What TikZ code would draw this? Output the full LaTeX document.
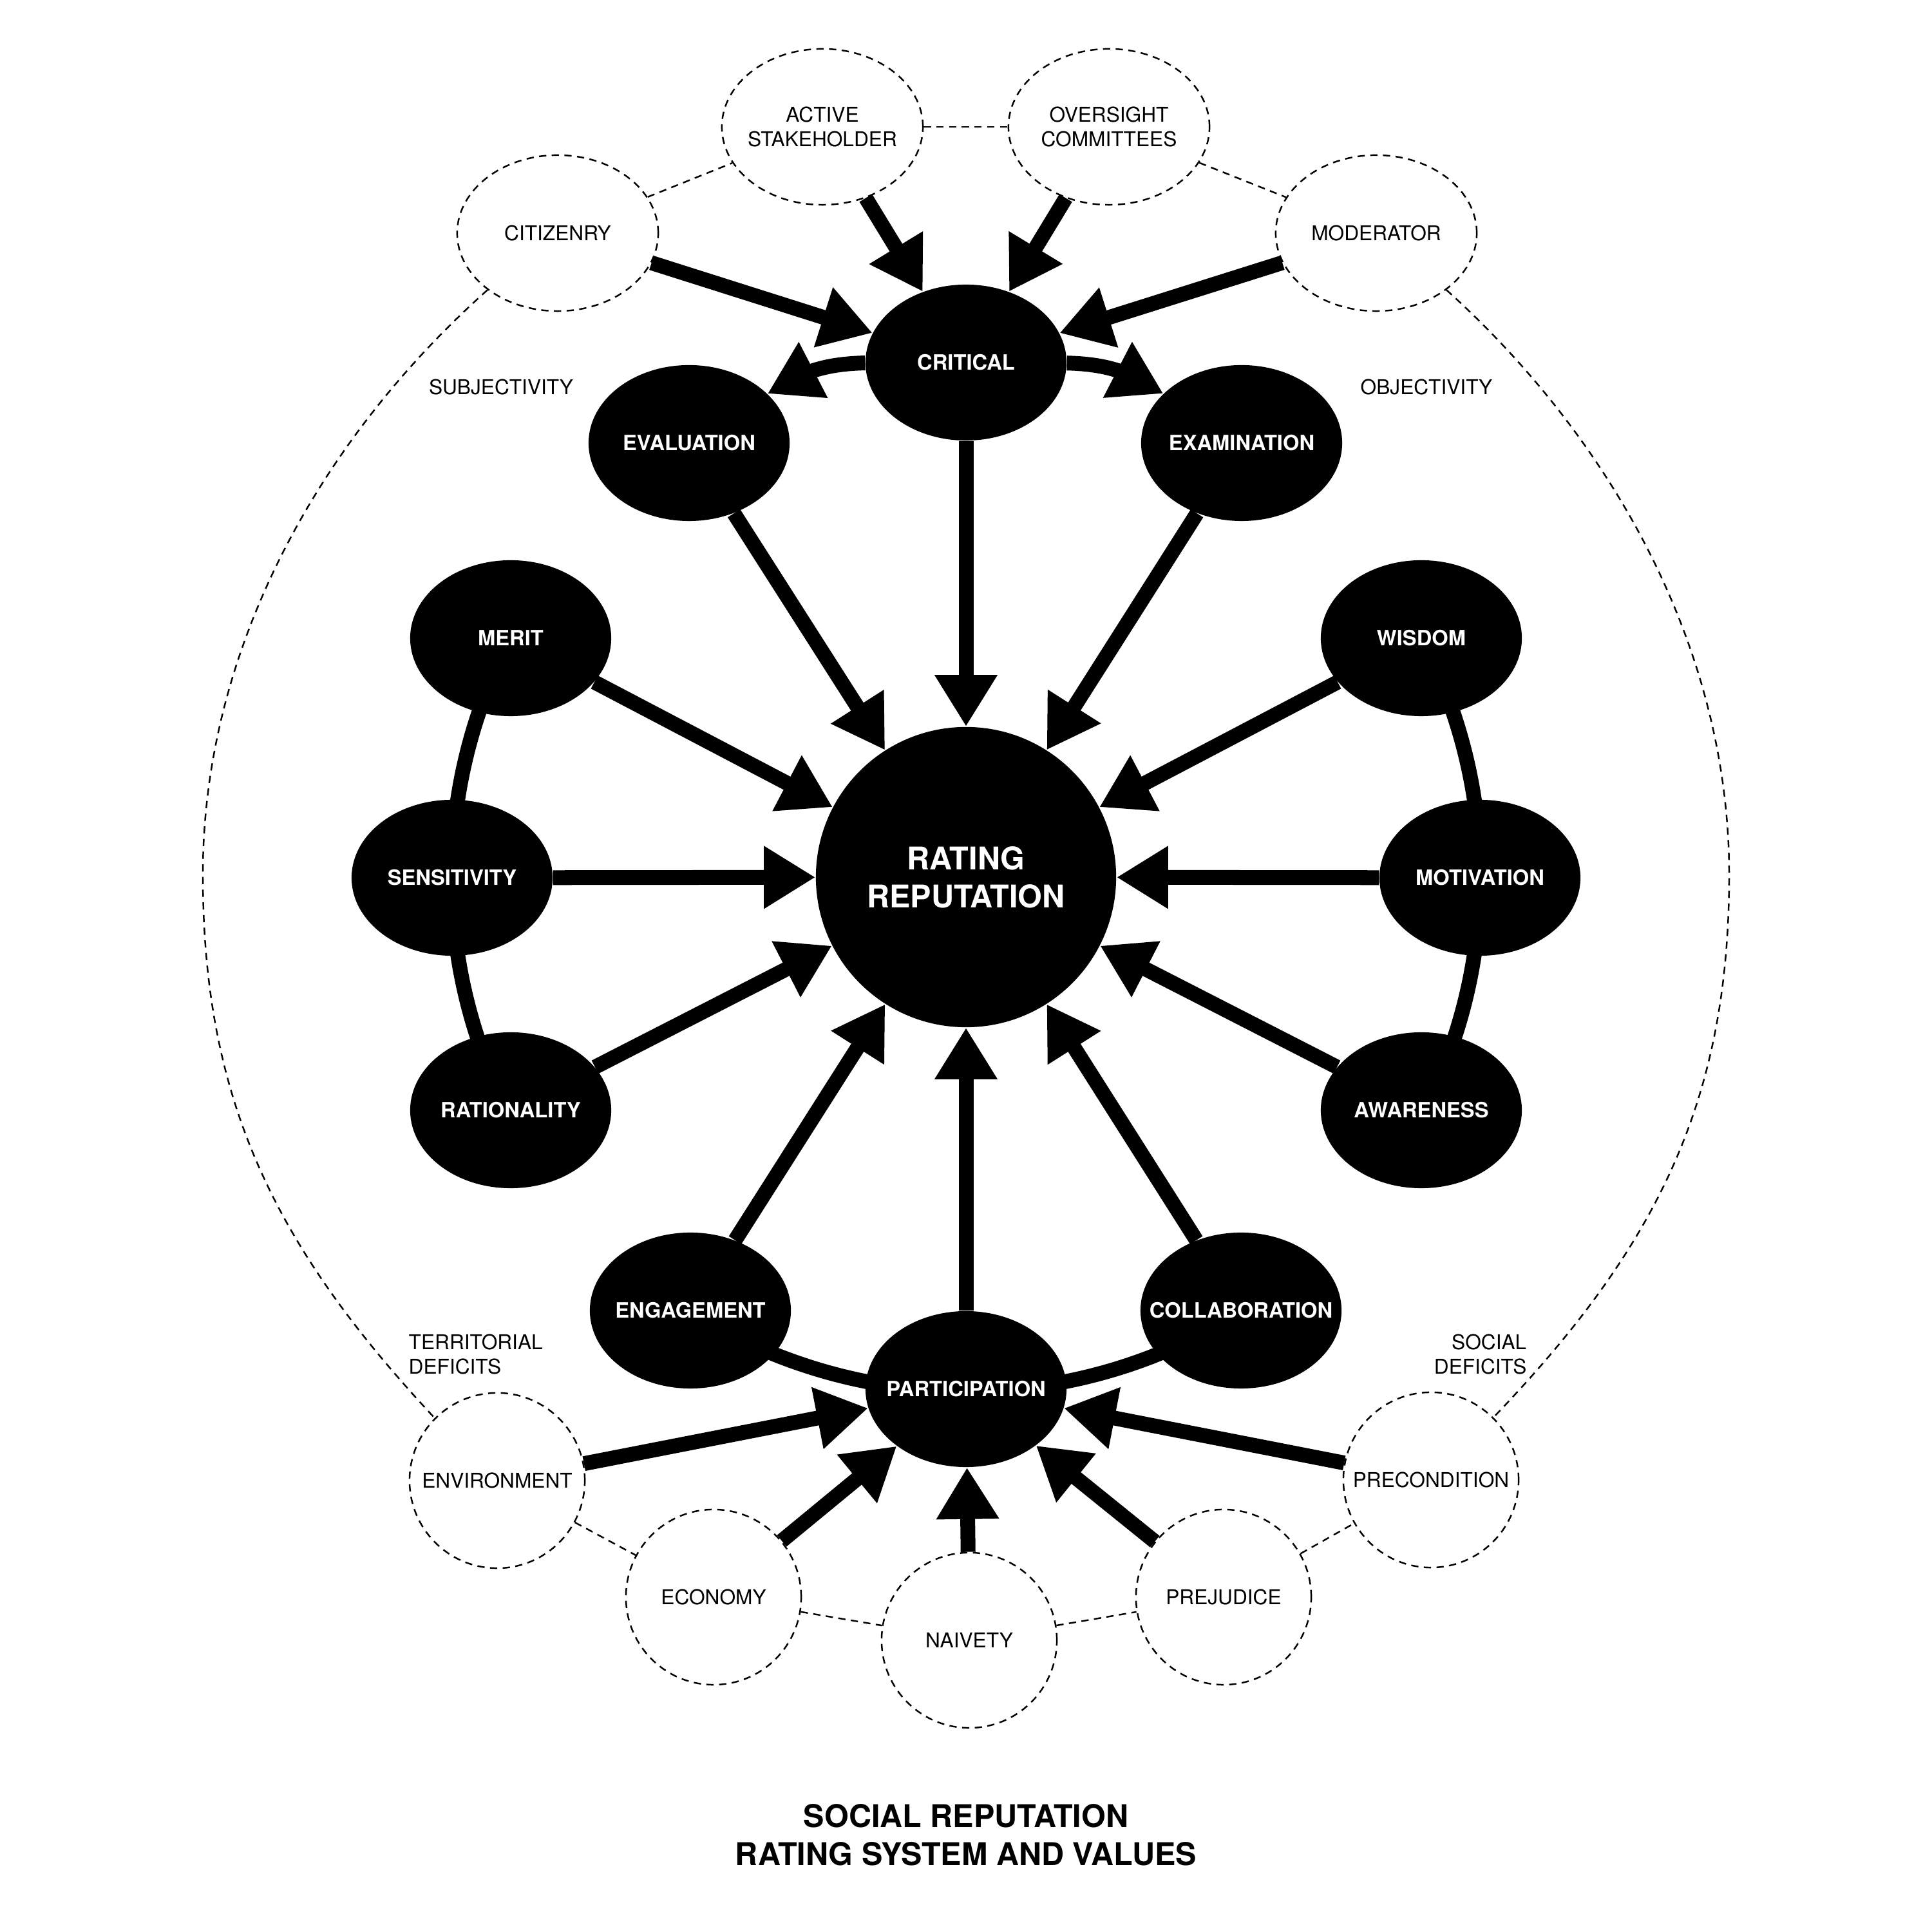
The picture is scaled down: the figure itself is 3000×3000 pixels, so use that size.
\documentclass[tikz,border=0pt]{standalone}
\usepackage{fontspec}
\setmainfont{TeX Gyre Heros}
\usetikzlibrary{shapes.geometric,arrows.meta,bending,backgrounds}
\begin{document}
\begin{tikzpicture}[x=0.01cm,y=0.01cm,
  arr/.style={line width=0.23cm,-{Triangle[length=0.8cm,width=0.92cm]}},
  thk/.style={line width=0.23cm},
  dsh/.style={line width=0.7pt,dash pattern=on 3.2pt off 2.4pt},
  bnode/.style={ellipse,fill=black,inner sep=0pt,minimum width=3.12cm,minimum height=2.42cm},
  dell/.style={ellipse,draw,dsh,inner sep=0pt,minimum width=3.12cm,minimum height=2.42cm},
  dcirc/.style={circle,draw,dsh,inner sep=0pt,minimum size=2.72cm},
  btxt/.style={text=white,font=\fontsize{9.3}{11}\selectfont\bfseries,inner sep=0pt,align=center},
  dtxt/.style={font=\fontsize{9}{10.8}\selectfont,inner sep=0pt,align=center},
  lbl/.style={font=\fontsize{9}{10.8}\selectfont,inner sep=0pt},
  bigtxt/.style={font=\fontsize{13.8}{16.8}\selectfont\bfseries,align=center,inner sep=0pt}]
\useasboundingbox (0,0) rectangle (3000,3000);

% centre
\node[circle,fill=black,inner sep=0pt,minimum size=4.66cm,text=white,font=\fontsize{13.8}{16.8}\selectfont\bfseries,align=center] (c) at (1500,1638) {RATING\\REPUTATION};

% black nodes
\node[bnode,label={[btxt]center:CRITICAL}] (crit) at (1500,2437) {};
\node[bnode,label={[btxt]center:EVALUATION}] (eval) at (1070,2312) {};
\node[bnode,label={[btxt]center:EXAMINATION}] (exam) at (1928,2312) {};
\node[bnode,label={[btxt]center:MERIT}] (merit) at (793,2009) {};
\node[bnode,label={[btxt]center:SENSITIVITY}] (sens) at (702,1637) {};
\node[bnode,label={[btxt]center:RATIONALITY}] (rat) at (793,1276) {};
\node[bnode,label={[btxt]center:WISDOM}] (wis) at (2207,2009) {};
\node[bnode,label={[btxt]center:MOTIVATION}] (mot) at (2298,1637) {};
\node[bnode,label={[btxt]center:AWARENESS}] (awa) at (2207,1276) {};
\node[bnode,label={[btxt]center:ENGAGEMENT}] (eng) at (1072,965) {};
\node[bnode,label={[btxt]center:PARTICIPATION}] (part) at (1500,843) {};
\node[bnode,label={[btxt]center:COLLABORATION}] (coll) at (1927,965) {};

% dashed nodes (top)
\node[dell,label={[dtxt]center:CITIZENRY}] (cit) at (866,2638) {};
\node[dell,label={[dtxt]center:ACTIVE\\STAKEHOLDER}] (act) at (1277,2803) {};
\node[dell,label={[dtxt]center:OVERSIGHT\\COMMITTEES}] (ovs) at (1722,2803) {};
\node[dell,label={[dtxt]center:MODERATOR}] (mod) at (2137,2638) {};

% dashed nodes (bottom)
\node[dcirc,label={[dtxt]center:ENVIRONMENT}] (env) at (772,701) {};
\node[dcirc,label={[dtxt]center:ECONOMY}] (eco) at (1108,520) {};
\node[dcirc,label={[dtxt]center:NAIVETY}] (nai) at (1505,453) {};
\node[dcirc,label={[dtxt]center:PREJUDICE}] (pre) at (1900,520) {};
\node[dcirc,label={[dtxt]center:PRECONDITION}] (prc) at (2222,702) {};

% free labels
\node[lbl] (subj) at (778,2399) {SUBJECTIVITY};
\node[lbl] (obj) at (2215,2399) {OBJECTIVITY};
\node[lbl,anchor=west,align=left] (terr) at (634,897) {TERRITORIAL\\DEFICITS};
\node[lbl,anchor=east,align=right] (soc) at (2371,897) {SOCIAL\\DEFICITS};
\node[bigtxt] (title) at (1500,151) {SOCIAL REPUTATION\\RATING SYSTEM AND VALUES};

% background: white page and the thick ring arcs behind the nodes
\begin{scope}[on background layer]
  \fill[white] (0,0) rectangle (3000,3000);
  \draw[thk] ([shift={(152.3:7.98cm)}]c.center) arc[start angle=152.3,end angle=207.7,radius=7.98cm];
  \draw[thk] ([shift={(-27.7:7.98cm)}]c.center) arc[start angle=-27.7,end angle=27.7,radius=7.98cm];
  \draw[thk] ([shift={(237.5:7.98cm)}]c.center) arc[start angle=237.5,end angle=302.5,radius=7.98cm];
\end{scope}

% dashed links
\draw[dsh] (cit) -- (act);
\draw[dsh] (act) -- (ovs);
\draw[dsh] (ovs) -- (mod);
\draw[dsh] (env) -- (eco);
\draw[dsh] (eco) -- (nai);
\draw[dsh] (nai) -- (pre);
\draw[dsh] (pre) -- (prc);
\coordinate (lmid) at (315,1642);
\coordinate (rmid) at (2685,1642);
\draw[dsh] (cit.219) .. controls (496,2317) and (315,1992) .. (lmid)
  .. controls (315,1292) and (426,1065) .. (env.135);
\draw[dsh] (mod.-39) .. controls (2504,2317) and (2685,1992) .. (rmid)
  .. controls (2685,1292) and (2574,1065) .. (prc.45);

% curved arrows from critical
\draw[arr] (crit) to[bend right=16] (eval);
\draw[arr] (crit) to[bend left=16] (exam);

% arrows into centre
\foreach \n in {crit,eval,exam,merit,sens,rat,wis,mot,awa,eng,part,coll}
  \draw[arr] (\n) -- (c);

% arrows into critical and participation
\foreach \n in {cit,act,ovs,mod}
  \draw[arr] (\n) -- (crit);
\foreach \n in {env,eco,nai,pre,prc}
  \draw[arr] (\n) -- (part);
\end{tikzpicture}
\end{document}
